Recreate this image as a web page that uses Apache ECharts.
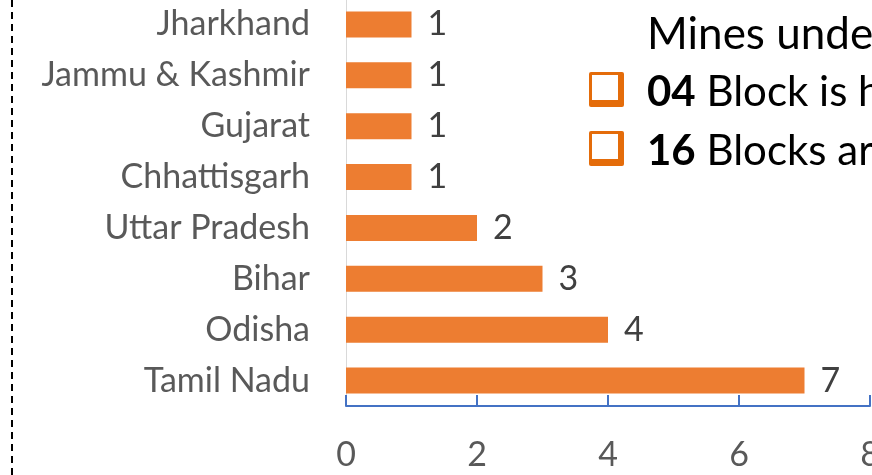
<!DOCTYPE html>
<html>
<head>
<meta charset="utf-8">
<script src="https://cdn.jsdelivr.net/npm/echarts@6/dist/echarts.min.js"></script>
<style>
  html, body { margin: 0; padding: 0; background: #fff; }
  #chart { width: 872px; height: 475px; }
</style>
</head>
<body>
<div id="chart"></div>
<script>
// states listed bottom to top, as the category axis draws them
var states = ["Tamil Nadu", "Odisha", "Bihar", "Uttar Pradesh", "Chhattisgarh", "Gujarat", "Jammu & Kashmir", "Jharkhand"];
var mines = [7, 4, 3, 2, 1, 1, 1, 1];
var noteTitle = "Mines unde";
var noteLines = [["04", " Block is h"], ["16", " Blocks ar"]];

var font = "Lato, 'Noto Sans', sans-serif";
var chart = echarts.init(document.getElementById("chart"));

var graphics = [
    {
        type: "line",
        shape: { x1: 12, y1: 0, x2: 12, y2: 475 },
        style: { stroke: "#000", lineWidth: 2, lineDash: [7, 5] }
    },
    {
        type: "text",
        x: 647, y: 35,
        style: { text: noteTitle, font: "44px " + font, fill: "#000", verticalAlign: "middle" }
    }
];
noteLines.forEach(function (line, i)
{
    var y = 72 + i * 59;
    graphics.push({
        type: "rect",
        shape: { x: 589, y: y, width: 35, height: 35, r: 2 },
        style: { fill: "#E46C0A" }
    });
    graphics.push({
        type: "rect",
        shape: { x: 592, y: y + 3, width: 26, height: 25 },
        style: { fill: "#fff" }
    });
    graphics.push({
        type: "text",
        x: 647, y: y + 20,
        style: {
            text: "{b|" + line[0] + "}" + line[1],
            font: "42px " + font,
            fill: "#000",
            verticalAlign: "middle",
            rich: { b: { fontWeight: "bold", fontSize: 42, fontFamily: font } }
        }
    });
});

chart.setOption({
    animation: false,
    grid: { left: 346, right: 2, top: -1, bottom: 69, outerBoundsMode: "none" },
    xAxis: {
        type: "value",
        min: 0, max: 8, interval: 2,
        axisLine: { show: true, lineStyle: { color: "#4472C4", width: 2 } },
        axisTick: { show: true, inside: true, length: 11, lineStyle: { color: "#4472C4", width: 2 } },
        axisLabel: { color: "#595959", fontSize: 34, fontFamily: font, margin: 32 },
        splitLine: { show: false }
    },
    yAxis: {
        type: "category",
        data: states,
        axisLine: { show: true, lineStyle: { color: "#D9D9D9", width: 1 } },
        axisTick: { show: false },
        axisLabel: { color: "#595959", fontSize: 34, fontFamily: font, margin: 36 }
    },
    series: [{
        type: "bar",
        data: mines,
        barWidth: 26,
        itemStyle: { color: "#ED7D31" },
        label: {
            show: true, position: "right", distance: 16,
            color: "#404040", fontSize: 34, fontFamily: font
        }
    }],
    graphic: graphics
});
</script>
</body>
</html>
